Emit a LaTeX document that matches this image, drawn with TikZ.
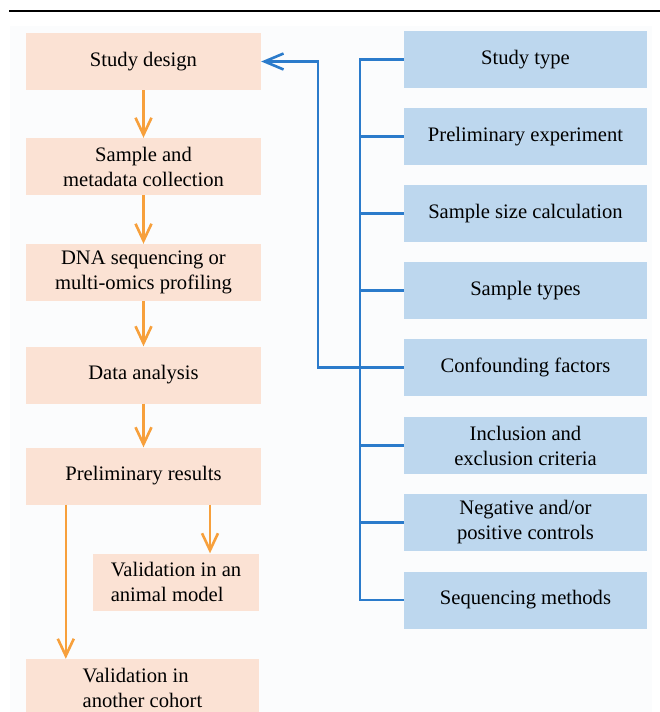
\documentclass[tikz,border=0pt]{standalone}
\usepackage{fontspec}
\setmainfont{Liberation Serif}
\usetikzlibrary{arrows.meta,positioning}
\definecolor{peach}{HTML}{FBE2D4}
\definecolor{sky}{HTML}{BDD7EE}
\definecolor{wire}{HTML}{2B7BCB}
\definecolor{amber}{HTML}{F7A03C}
\definecolor{paper}{HTML}{FBFCFD}
\tikzset{
  stepbox/.style={fill=peach, minimum width=235pt, minimum height=57pt, align=center, inner sep=2pt, font=\fontsize{20.6}{25}\selectfont},
  itembox/.style={fill=sky, minimum width=243pt, minimum height=57pt, align=center, inner sep=2pt, font=\fontsize{20.6}{25}\selectfont},
  flow/.style={-{Straight Barb[length=17pt,width=16pt]}, draw=amber, line width=2.6pt},
  feed/.style={draw=wire, line width=2.6pt},
}
\begin{document}
\begin{tikzpicture}[x=1pt,y=-1pt]
\useasboundingbox (0,0) rectangle (660,712);
\fill[paper] (10,26) rectangle (652,712);
\draw[line width=2.5pt] (9,11) -- (660,11);
% workflow column
\node[stepbox] (design) at (143.5,61.5) {Study design};
\node[stepbox] (sample) at (143.5,166.5) {Sample and\\metadata collection};
\node[stepbox] (dna) at (143.5,272.5) {DNA sequencing or\\multi-omics profiling};
\node[stepbox] (analysis) at (143.5,375) {Data analysis};
\node[stepbox] (prelim) at (143.5,476) {Preliminary results};
\node[stepbox, minimum width=166pt, align=left] (animal) at (176,582) {Validation in an\\animal model};
\node[stepbox, minimum width=233pt, align=left] (cohort) at (142.5,687.5) {Validation in\\another cohort};
% considerations column
\node[itembox] (type) at (525.5,59.5) {Study type};
\node[itembox] (pilot) at (525.5,136.5) {Preliminary experiment};
\node[itembox] (size) at (525.5,213.5) {Sample size calculation};
\node[itembox] (kinds) at (525.5,290.5) {Sample types};
\node[itembox] (confound) at (525.5,367.5) {Confounding factors};
\node[itembox] (criteria) at (525.5,445.5) {Inclusion and\\exclusion criteria};
\node[itembox] (controls) at (525.5,522.5) {Negative and/or\\positive controls};
\node[itembox] (methods) at (525.5,600) {Sequencing methods};
\coordinate (bus) at (360,0);
\coordinate (ret) at (318,0);
% arrows
\draw[flow] (design) -- (sample);
\draw[flow] (sample) -- (dna);
\draw[flow] (dna) -- (analysis);
\draw[flow] (analysis) -- (prelim);
\draw[flow] ([xshift=34pt]animal.north |- prelim.south) -- ([xshift=34pt]animal.north);
\draw[flow] ([xshift=40pt]cohort.north west |- prelim.south) -- ([xshift=40pt]cohort.north west);
\draw[feed] (type.west) -| (bus |- methods.west) -- (methods.west);
\foreach \n in {pilot,size,kinds,confound,criteria,controls}
  \draw[feed] (\n.west) -- (\n.west -| bus);
\draw[feed, -{Straight Barb[length=19pt,width=16pt]}] (confound.west -| bus) -- (confound.west -| ret) |- (design.east);
\end{tikzpicture}
\end{document}
